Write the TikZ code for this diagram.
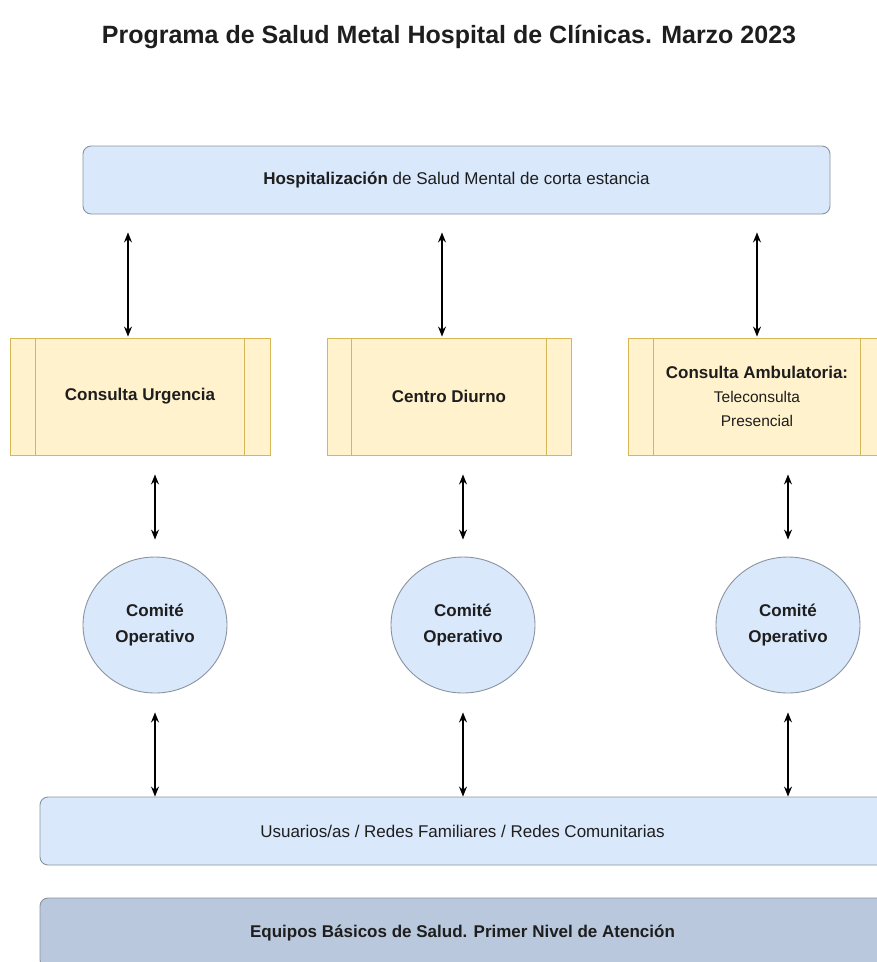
\documentclass[tikz,border=0pt]{standalone}
\usepackage{fontspec}
\setmainfont{Liberation Sans}
\usetikzlibrary{arrows.meta,shapes.geometric,positioning}

\definecolor{bluefill}{HTML}{DAE8FC}
\definecolor{blueline}{HTML}{8A939E}
\definecolor{yellowfill}{HTML}{FFF2CC}
\definecolor{yellowline}{HTML}{D6B656}
\definecolor{darkfill}{HTML}{B9C8DC}
\definecolor{txt}{HTML}{1E1E1E}

\tikzset{
	lane/.style={draw=blueline,fill=bluefill,rounded corners=8pt,line width=0.9pt,minimum height=68pt,text=txt,font=\fontsize{17}{20}\selectfont},
	procbox/.style={draw=yellowline,fill=yellowfill,line width=0.9pt,minimum height=117pt,align=center,text=txt,font=\fontsize{17}{24}\selectfont},
	comite/.style={ellipse,draw=blueline,fill=bluefill,line width=0.9pt,minimum width=144pt,minimum height=136pt,inner sep=0pt,align=center,text=txt,font=\fontsize{17}{26}\selectfont\bfseries},
	biarrow/.style={{Stealth[length=10pt,width=8pt]}-{Stealth[length=10pt,width=8pt]},line width=1.2pt,black},
}

\begin{document}
\begin{tikzpicture}[x=1pt,y=-1pt]
	\useasboundingbox (0,0) rectangle (877,962);
	\node[text=txt,font=\fontsize{25}{30}\selectfont\bfseries] (title) at (449,37) {Programa de Salud Metal Hospital de Clínicas. Marzo 2023};

	\node[lane,minimum width=747pt] (hosp) at (456.5,180) {\textbf{Hospitalización} de Salud Mental de corta estancia};

	\node[procbox,minimum width=260pt] (urg)    at (140,396.5) {\textbf{Consulta Urgencia}};
	\node[procbox,minimum width=244pt] (diurno) at (449,396.5) {\textbf{Centro Diurno}};
	\node[procbox,minimum width=258pt] (amb)    at (757,396.5) {\textbf{Consulta Ambulatoria:}\\ \fontsize{15.5}{24}\selectfont Teleconsulta\\ \fontsize{15.5}{24}\selectfont Presencial};
	% inner lines of the process boxes
	\draw[yellowline,line width=0.9pt] ([xshift=26pt]urg.north west)    -- ([xshift=26pt]urg.south west);
	\draw[yellowline,line width=0.9pt] ([xshift=-26pt]urg.north east)   -- ([xshift=-26pt]urg.south east);
	\draw[yellowline,line width=0.9pt] ([xshift=25pt]diurno.north west) -- ([xshift=25pt]diurno.south west);
	\draw[yellowline,line width=0.9pt] ([xshift=-25pt]diurno.north east)-- ([xshift=-25pt]diurno.south east);
	\draw[yellowline,line width=0.9pt] ([xshift=26pt]amb.north west)    -- ([xshift=26pt]amb.south west);
	\draw[yellowline,line width=0.9pt] ([xshift=-26pt]amb.north east)   -- ([xshift=-26pt]amb.south east);

	\node[comite] (comA) at (155,625) {Comité\\Operativo};
	\node[comite] (comB) at (463,625) {Comité\\Operativo};
	\node[comite] (comC) at (788,625) {Comité\\Operativo};

	\node[lane,minimum width=845pt] (usu) at (462.5,831) {Usuarios/as / Redes Familiares / Redes Comunitarias};
	\node[lane,fill=darkfill,minimum width=845pt,minimum height=70pt] (equipos) at (462.5,933) {\textbf{Equipos Básicos de Salud. Primer Nivel de Atención}};

	% arrows hospitalization -- services
	\coordinate (tA) at ([xshift=-12pt]urg.north);
	\coordinate (tB) at ([xshift=-7pt]diurno.north);
	\coordinate (tC) at (amb.north);
	\draw[biarrow,shorten <=18pt,shorten >=1pt] (tA |- hosp.south) -- (tA);
	\draw[biarrow,shorten <=18pt,shorten >=1pt] (tB |- hosp.south) -- (tB);
	\draw[biarrow,shorten <=18pt,shorten >=1pt] (tC |- hosp.south) -- (tC);

	% arrows services -- committees
	\draw[biarrow,shorten <=19pt,shorten >=17pt] (comA |- urg.south)    -- (comA.north);
	\draw[biarrow,shorten <=19pt,shorten >=17pt] (comB |- diurno.south) -- (comB.north);
	\draw[biarrow,shorten <=19pt,shorten >=17pt] (comC |- amb.south)    -- (comC.north);

	% arrows committees -- users
	\draw[biarrow,shorten <=19pt] (comA.south) -- (comA.south |- usu.north);
	\draw[biarrow,shorten <=19pt] (comB.south) -- (comB.south |- usu.north);
	\draw[biarrow,shorten <=19pt] (comC.south) -- (comC.south |- usu.north);
\end{tikzpicture}
\end{document}
